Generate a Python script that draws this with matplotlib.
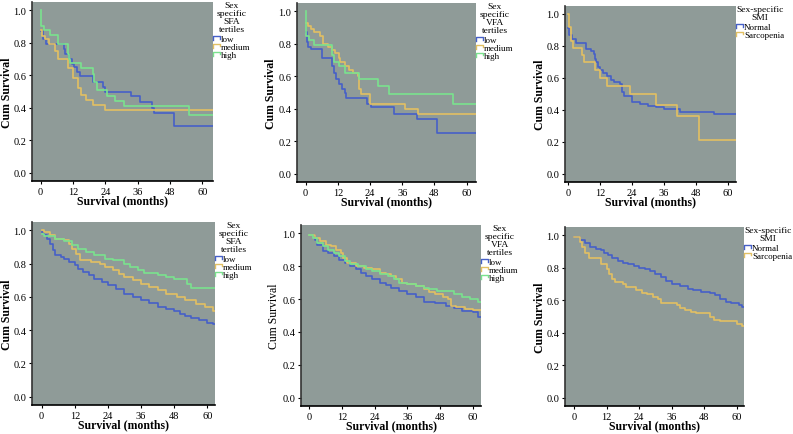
import matplotlib
matplotlib.use('Agg')
import matplotlib.pyplot as plt
from matplotlib.lines import Line2D
from matplotlib.legend_handler import HandlerBase
import numpy as np

plt.rcParams['font.family'] = ['Liberation Serif', 'DejaVu Serif']

BG = '#8f9b98'
BLUE = '#4660c8'
ORANGE = '#e2c063'
GREEN = '#7ae28e'

# ---- top row: small cohort ----
p1_low_t = [0, 1, 2, 8.5, 9, 10.5, 11.5, 12.5, 13.5, 14.5, 19.5, 23, 24, 33.5, 37, 41.5, 42, 49.5]
p1_low_s = [0.87, 0.82, 0.79, 0.76, 0.73, 0.70, 0.67, 0.65, 0.62, 0.595, 0.56, 0.53, 0.50, 0.47, 0.435, 0.40, 0.365, 0.29]
p1_med_t = [0, 0.5, 1.5, 3, 5.5, 6.5, 10, 12, 14, 15, 17, 19.5, 24]
p1_med_s = [0.88, 0.84, 0.82, 0.79, 0.75, 0.70, 0.645, 0.58, 0.52, 0.48, 0.45, 0.42, 0.385]
p1_high_t = [0, 0.3, 1.2, 3.5, 6.5, 10, 10.5, 11, 15, 19.5, 20, 21, 24.5, 27.5, 31, 55]
p1_high_s = [1.0, 0.90, 0.875, 0.85, 0.79, 0.73, 0.70, 0.675, 0.645, 0.61, 0.56, 0.51, 0.475, 0.44, 0.41, 0.355]

p2_low_t = [0, 0.5, 1, 2, 6, 10, 10.5, 11.5, 12.5, 13.5, 14.5, 15, 23, 24.5, 33, 41.5, 49]
p2_low_s = [0.87, 0.81, 0.78, 0.765, 0.71, 0.66, 0.62, 0.58, 0.55, 0.52, 0.495, 0.465, 0.43, 0.41, 0.37, 0.335, 0.25]
p2_med_t = [0, 1, 2, 3, 5.5, 6.5, 8.5, 10, 11, 12.5, 13, 14.5, 16, 17.5, 19.5, 20, 20.5, 24, 37, 42]
p2_med_s = [0.93, 0.91, 0.89, 0.87, 0.85, 0.80, 0.78, 0.76, 0.74, 0.71, 0.69, 0.66, 0.64, 0.62, 0.60, 0.52, 0.49, 0.43, 0.40, 0.365]
p2_high_t = [0, 0.3, 1.3, 3, 10, 10.5, 12.5, 14.5, 20, 27, 31, 55]
p2_high_s = [1.0, 0.85, 0.82, 0.79, 0.73, 0.69, 0.66, 0.62, 0.58, 0.54, 0.49, 0.43]

p3_norm_t = [0, 0.3, 1.3, 3, 6.5, 8.5, 9.5, 10, 10.5, 11, 12, 13, 14.5, 16, 17, 19.5, 20, 21, 24, 27, 30, 33, 36, 42, 55]
p3_norm_s = [0.91, 0.87, 0.845, 0.82, 0.78, 0.77, 0.75, 0.72, 0.70, 0.67, 0.65, 0.63, 0.61, 0.59, 0.575, 0.56, 0.51, 0.49, 0.45, 0.435, 0.425, 0.42, 0.405, 0.39, 0.375]
p3_sarc_t = [0, 0.3, 0.8, 1, 1.6, 5, 6, 10, 12, 14.5, 23, 33, 41, 49]
p3_sarc_s = [1.0, 0.92, 0.87, 0.83, 0.79, 0.745, 0.70, 0.65, 0.60, 0.55, 0.50, 0.43, 0.36, 0.215]

# ---- bottom row: large cohort ----
p4_low_t = [0, 1, 2, 3, 4, 5, 7, 8, 10, 12, 13, 15, 17, 19, 22, 24, 27, 30, 33, 36, 39, 42, 45, 48, 50, 52, 54, 57, 60, 62]
p4_low_s = [0.99, 0.97, 0.95, 0.92, 0.88, 0.85, 0.84, 0.83, 0.81, 0.79, 0.77, 0.75, 0.73, 0.71, 0.69, 0.67, 0.645, 0.62, 0.60, 0.58, 0.565, 0.54, 0.53, 0.515, 0.50, 0.485, 0.475, 0.46, 0.445, 0.435]
p4_med_t = [0, 1, 3, 5, 8, 10, 11, 12.5, 14, 18, 21, 23, 26, 28, 30, 33, 36, 39, 42, 45, 49, 52, 56, 59, 62]
p4_med_s = [1.0, 0.99, 0.97, 0.95, 0.94, 0.92, 0.89, 0.855, 0.82, 0.81, 0.80, 0.78, 0.76, 0.74, 0.72, 0.70, 0.68, 0.66, 0.64, 0.62, 0.60, 0.58, 0.56, 0.54, 0.515]
p4_high_t = [0, 1, 5, 8, 11, 13, 16, 19, 23, 26, 30, 32, 35, 37, 42, 45, 48, 52.5, 54]
p4_high_s = [0.98, 0.965, 0.95, 0.935, 0.91, 0.89, 0.87, 0.85, 0.83, 0.82, 0.80, 0.78, 0.76, 0.745, 0.73, 0.72, 0.71, 0.68, 0.655]

p5_low_t = [0, 2, 3, 5, 7, 9, 11, 13, 15, 17, 19, 21, 23, 26, 28, 30, 33, 36, 39, 42, 46, 50, 53, 56, 60, 62]
p5_low_s = [0.99, 0.96, 0.93, 0.89, 0.88, 0.86, 0.84, 0.82, 0.80, 0.78, 0.76, 0.74, 0.72, 0.70, 0.685, 0.665, 0.65, 0.63, 0.61, 0.585, 0.575, 0.56, 0.545, 0.53, 0.52, 0.49]
p5_med_t = [0, 2, 4, 6, 8, 10, 11.5, 12.5, 14, 17, 20, 23, 26, 28, 30, 32, 34, 36, 39, 42, 44, 46, 49, 51, 52, 54, 57, 60]
p5_med_s = [0.99, 0.97, 0.95, 0.93, 0.92, 0.90, 0.88, 0.85, 0.82, 0.80, 0.79, 0.78, 0.76, 0.75, 0.74, 0.72, 0.70, 0.69, 0.68, 0.66, 0.64, 0.63, 0.61, 0.60, 0.56, 0.55, 0.54, 0.535]
p5_high_t = [0, 1.5, 3, 5, 7, 9, 11, 13, 15, 18, 21, 23, 26, 29, 31, 33, 36, 39, 42, 44, 47, 53, 56, 59, 62]
p5_high_s = [0.99, 0.97, 0.94, 0.92, 0.90, 0.88, 0.86, 0.83, 0.81, 0.80, 0.78, 0.77, 0.75, 0.74, 0.72, 0.70, 0.69, 0.68, 0.67, 0.66, 0.65, 0.63, 0.61, 0.60, 0.58]

p6_norm_t = [0, 2, 4, 6, 8, 10, 11, 12.5, 14, 16, 18, 20, 22, 24, 26, 28, 30, 32, 34, 36, 39, 42, 44, 47, 50, 52, 54, 56, 58, 61, 62]
p6_norm_s = [0.99, 0.97, 0.95, 0.93, 0.915, 0.91, 0.89, 0.88, 0.86, 0.84, 0.83, 0.82, 0.81, 0.80, 0.79, 0.78, 0.76, 0.74, 0.72, 0.70, 0.69, 0.67, 0.66, 0.65, 0.645, 0.63, 0.61, 0.59, 0.58, 0.57, 0.56]
p6_sarc_t = [0, 2, 3, 4, 5.5, 10, 12, 13, 14, 15, 18, 19, 23, 25, 27, 29, 31, 32, 38, 39, 41, 43, 45, 48, 50, 51.5, 54, 58, 60, 62]
p6_sarc_s = [0.99, 0.96, 0.93, 0.89, 0.86, 0.82, 0.79, 0.76, 0.73, 0.71, 0.70, 0.68, 0.66, 0.645, 0.64, 0.62, 0.61, 0.585, 0.57, 0.55, 0.54, 0.53, 0.52, 0.52, 0.50, 0.48, 0.475, 0.47, 0.455, 0.44]

tert_labels = ['low', 'medium', 'high']
smi_labels = ['Normal', 'Sarcopenia']


class StepHandler(HandlerBase):
    def create_artists(self, legend, orig_handle, xdescent, ydescent,
                       width, height, fontsize, trans):
        x = np.array([0, 0, 1, 1]) * width - xdescent
        y = np.array([0.15, 0.7, 0.7, 0.35]) * height - ydescent
        return [Line2D(x, y, color=orig_handle.get_color(), lw=1.0, transform=trans)]


W, H = 793, 435
fig = plt.figure(figsize=(W / 100, H / 100), dpi=100)
fig.patch.set_facecolor('white')


def panel(px, curves, labels, title, xlim, ybold=True, yoff=19):
    l, r, t, b = px
    ax = fig.add_axes([l / W, 1 - b / H, (r - l) / W, (b - t) / H])
    ax.set_facecolor(BG)
    handles = []
    for (tt, ss), col, lab in zip(curves, [BLUE, ORANGE, GREEN], labels):
        tt = list(tt) + [xlim[1]]
        ss = list(ss) + [ss[-1]]
        h, = ax.step(tt, ss, where='post', color=col, lw=1.2, label=lab)
        handles.append(h)
    ax.set_xlim(*xlim)
    ax.set_ylim(-0.05, 1.05)
    ax.set_xticks([0, 12, 24, 36, 48, 60])
    ax.set_yticks([0.0, 0.2, 0.4, 0.6, 0.8, 1.0])
    ax.set_yticklabels(['0.0', '0.2', '0.4', '0.6', '0.8', '1.0'])
    ax.tick_params(labelsize=7.5, length=2.5, width=0.8, direction='out', pad=1.5)
    for s in ['top', 'right']:
        ax.spines[s].set_visible(False)
    ax.spines['left'].set_color('#333333')
    ax.spines['left'].set_linewidth(1.2)
    ax.spines['bottom'].set_linewidth(1.2)
    ax.set_xlabel('Survival (months)', fontsize=8.5, fontweight='bold', labelpad=-1)
    ax.set_ylabel('Cum Survival', fontsize=8.5,
                  fontweight='bold' if ybold else 'normal')
    ax.yaxis.set_label_coords(-yoff / (r - l), 0.5)
    leg = ax.legend(handles=handles, title=title, loc='upper left',
                    bbox_to_anchor=(1.0, 1.005), frameon=False, fontsize=6.5,
                    title_fontsize=6.8, handlelength=0.75, handletextpad=0.15,
                    labelspacing=-0.05, borderpad=0, borderaxespad=0,
                    alignment='center',
                    handler_map={Line2D: StepHandler()})
    leg.get_title().set_multialignment('center')
    leg.get_title().set_linespacing(1.0)
    leg._legend_box.sep = 1
    return ax


sfa_title = 'Sex\nspecific\nSFA\ntertiles'
vfa_title = 'Sex\nspecific\nVFA\ntertiles'
smi_title = 'Sex-specific\nSMI'

panel((32, 213, 3, 182),
      [(p1_low_t, p1_low_s), (p1_med_t, p1_med_s), (p1_high_t, p1_high_s)],
      tert_labels, sfa_title, (-3.2, 64), yoff=19)
panel((297, 476, 4, 183),
      [(p2_low_t, p2_low_s), (p2_med_t, p2_med_s), (p2_high_t, p2_high_s)],
      tert_labels, vfa_title, (-3.2, 63.5), yoff=20)
panel((565, 736, 7, 183),
      [(p3_norm_t, p3_norm_s), (p3_sarc_t, p3_sarc_s)],
      smi_labels, smi_title, (-1.3, 63.1), yoff=19)
panel((32, 215, 223, 406),
      [(p4_low_t, p4_low_s), (p4_med_t, p4_med_s), (p4_high_t, p4_high_s)],
      tert_labels, sfa_title, (-3.5, 62.8), yoff=19)
panel((301, 481, 226, 407),
      [(p5_low_t, p5_low_s), (p5_med_t, p5_med_s), (p5_high_t, p5_high_s)],
      tert_labels, vfa_title, (-3.0, 63), ybold=False, yoff=21)
panel((565, 744, 228, 407),
      [(p6_norm_t, p6_norm_s), (p6_sarc_t, p6_sarc_s)],
      smi_labels, smi_title, (-3.4, 62.7), yoff=19)

fig.savefig('out.png', dpi=100)
